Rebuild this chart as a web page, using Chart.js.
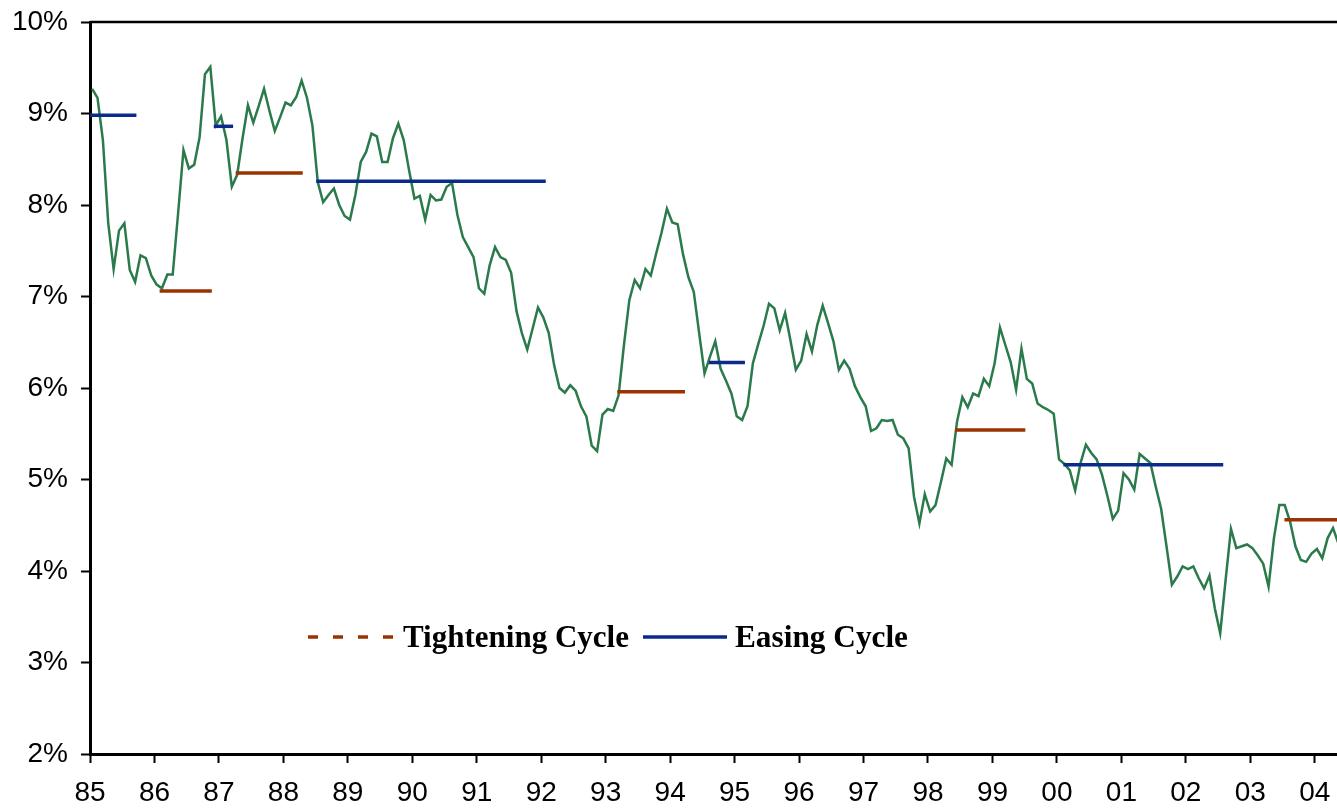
<!DOCTYPE html>
<html>
<head>
<meta charset="utf-8">
<script src="https://cdn.jsdelivr.net/npm/chart.js@4.4.1/dist/chart.umd.min.js"></script>
<style>
  html, body { margin: 0; padding: 0; background: #fff; }
  #wrap { width: 1337px; height: 810px; position: relative; }
</style>
</head>
<body>
<div id="wrap"><canvas id="yieldChart"></canvas></div>
<script>
// ── Yield with tightening / easing cycles, monthly 1985 → 2004 ──

const FIRST_YEAR = 1985;

// monthly yield (%), one row per year
const yields = [
  9.27, 9.17, 8.71, 7.80, 7.30, 7.72, 7.80, 7.29, 7.16, 7.45, 7.42, 7.23,  // 85
  7.13, 7.09, 7.24, 7.24, 7.91, 8.60, 8.40, 8.44, 8.74, 9.43, 9.51, 8.87,  // 86
  8.97, 8.71, 8.20, 8.33, 8.73, 9.09, 8.90, 9.08, 9.27, 9.03, 8.81, 8.96,  // 87
  9.12, 9.09, 9.18, 9.36, 9.17, 8.87, 8.25, 8.03, 8.11, 8.18, 8.00, 7.88,  // 88
  7.84, 8.11, 8.47, 8.58, 8.78, 8.75, 8.47, 8.47, 8.73, 8.89, 8.71, 8.38,  // 89
  8.07, 8.10, 7.84, 8.11, 8.05, 8.06, 8.20, 8.24, 7.89, 7.65, 7.54, 7.43,  // 90
  7.09, 7.03, 7.34, 7.54, 7.43, 7.40, 7.26, 6.84, 6.60, 6.42, 6.65, 6.88,  // 91
  6.77, 6.60, 6.25, 6.00, 5.95, 6.03, 5.97, 5.80, 5.69, 5.37, 5.31, 5.71,  // 92
  5.77, 5.75, 5.92, 6.47, 6.96, 7.18, 7.09, 7.30, 7.23, 7.47, 7.70, 7.96,  // 93
  7.81, 7.79, 7.46, 7.21, 7.05, 6.60, 6.16, 6.34, 6.51, 6.21, 6.08, 5.94,  // 94
  5.69, 5.65, 5.80, 6.27, 6.48, 6.68, 6.92, 6.87, 6.63, 6.82, 6.52, 6.20,  // 95
  6.30, 6.59, 6.40, 6.69, 6.90, 6.71, 6.51, 6.20, 6.30, 6.21, 6.02, 5.90,  // 96
  5.80, 5.53, 5.56, 5.65, 5.64, 5.65, 5.49, 5.45, 5.34, 4.81, 4.52, 4.84,  // 97
  4.65, 4.72, 4.97, 5.23, 5.16, 5.63, 5.90, 5.79, 5.94, 5.91, 6.10, 6.02,  // 98
  6.27, 6.66, 6.47, 6.28, 5.98, 6.43, 6.10, 6.05, 5.83, 5.79, 5.76, 5.72,  // 99
  5.22, 5.17, 5.10, 4.88, 5.18, 5.38, 5.29, 5.22, 5.05, 4.82, 4.57, 4.66,  // 00
  5.07, 5.00, 4.89, 5.28, 5.23, 5.18, 4.92, 4.68, 4.27, 3.85, 3.94, 4.05,  // 01
  4.02, 4.05, 3.92, 3.81, 3.95, 3.59, 3.32, 3.90, 4.46, 4.25, 4.27, 4.29,  // 02
  4.25, 4.17, 4.08, 3.83, 4.36, 4.72, 4.72, 4.54, 4.27, 4.12, 4.10, 4.19,  // 03
  4.24, 4.14, 4.36, 4.47, 4.30                                             // 04
];

// cycle periods (decimal years) and the level drawn for each
const tighteningStart = [1986.08, 1987.26, 1993.18, 1998.42, 2003.53];
const tighteningEnd   = [1986.89, 1988.30, 1994.23, 1999.51, 2004.60];
const tighteningLevel = [7.06, 8.35, 5.96, 5.54, 4.56];

const easingStart = [1985.00, 1986.92, 1988.51, 1994.60, 2000.10];
const easingEnd   = [1985.72, 1987.22, 1992.07, 1995.16, 2002.58];
const easingLevel = [8.98, 8.86, 8.26, 6.28, 5.16];

// axis ticks
const yearTicks = [1985, 1986, 1987, 1988, 1989, 1990, 1991, 1992, 1993, 1994,
                   1995, 1996, 1997, 1998, 1999, 2000, 2001, 2002, 2003, 2004];
const yTicks = [2, 3, 4, 5, 6, 7, 8, 9, 10];

const GREEN = '#2a7a4b';
const BROWN = '#993300';
const NAVY  = '#0a2a8c';

// ── datasets ─────────────────────────────────────────────────────
function cycleSets(starts, ends, levels, color) {
  return starts.map((s, i) => ({
    data: [{ x: s, y: levels[i] }, { x: ends[i], y: levels[i] }],
    borderColor: color,
    borderWidth: 3.5,
    borderCapStyle: 'butt',
    pointRadius: 0,
    fill: false
  }));
}

const yieldPoints = yields.map((v, k) => ({ x: FIRST_YEAR + (k + 0.4) / 12, y: v }));

const datasets = [
  ...cycleSets(easingStart, easingEnd, easingLevel, NAVY),
  ...cycleSets(tighteningStart, tighteningEnd, tighteningLevel, BROWN),
  {
    data: yieldPoints,
    borderColor: GREEN,
    borderWidth: 2.5,
    pointRadius: 0,
    tension: 0,
    fill: false
  }
];

// ── top frame line + legend in the plot ──────────────────────────
const framePlugin = {
  id: 'frame',
  afterDraw(chart) {
    const { ctx, chartArea: { top, left, right } } = chart;
    ctx.save();
    ctx.strokeStyle = '#000';
    ctx.lineWidth = 2.5;
    ctx.beginPath();
    ctx.moveTo(left, top);
    ctx.lineTo(right, top);
    ctx.stroke();
    ctx.restore();
  }
};

const legendPlugin = {
  id: 'cycleLegend',
  afterDraw(chart) {
    const c = chart.ctx;
    const y = 637;
    c.save();
    c.lineWidth = 3.5;

    c.strokeStyle = BROWN;
    c.setLineDash([10, 15]);
    c.beginPath(); c.moveTo(308, y); c.lineTo(393, y); c.stroke();

    c.strokeStyle = NAVY;
    c.setLineDash([]);
    c.beginPath(); c.moveTo(643, y); c.lineTo(727, y); c.stroke();

    c.fillStyle = '#000';
    c.font = 'bold 32px "Liberation Serif", "Times New Roman", serif';
    c.textBaseline = 'alphabetic';
    c.textAlign = 'left';
    c.fillText('Tightening Cycle', 403, 647, 226);
    c.fillText('Easing Cycle', 735, 647, 173);
    c.restore();
  }
};

// ── chart ────────────────────────────────────────────────────────
const tickFont = { family: '"Liberation Sans", Arial, sans-serif', size: 28 };

new Chart(document.getElementById('yieldChart'), {
  type: 'line',
  data: { datasets },
  options: {
    responsive: true,
    maintainAspectRatio: false,
    animation: false,
    parsing: false,
    layout: { padding: { top: 22, right: 0, bottom: 0, left: 0 } },
    plugins: {
      legend: { display: false },
      tooltip: { enabled: false }
    },
    scales: {
      x: {
        type: 'linear',
        min: yearTicks[0],
        max: 2004.345,
        afterBuildTicks: s => { s.ticks = yearTicks.map(v => ({ value: v })); },
        afterFit: s => { s.height = 56; s.paddingLeft = 0; s.paddingRight = 0; },
        ticks: {
          autoSkip: false,
          maxRotation: 0,
          padding: 13,
          color: '#000',
          font: tickFont,
          callback: v => String(Math.round(v) % 100).padStart(2, '0')
        },
        grid: { drawOnChartArea: false, drawTicks: true, tickLength: 9, tickWidth: 2, tickColor: '#000' },
        border: { display: true, color: '#000', width: 3 }
      },
      y: {
        min: yTicks[0],
        max: yTicks[yTicks.length - 1],
        afterBuildTicks: s => { s.ticks = yTicks.map(v => ({ value: v })); },
        afterFit: s => { s.width = 90; s.paddingTop = 0; s.paddingBottom = 0; },
        ticks: {
          padding: 13,
          color: '#000',
          font: tickFont,
          callback: v => v + '%'
        },
        grid: { drawOnChartArea: false, drawTicks: true, tickLength: 9, tickWidth: 2, tickColor: '#000' },
        border: { display: true, color: '#000', width: 3 }
      }
    }
  },
  plugins: [framePlugin, legendPlugin]
});
</script>
</body>
</html>
